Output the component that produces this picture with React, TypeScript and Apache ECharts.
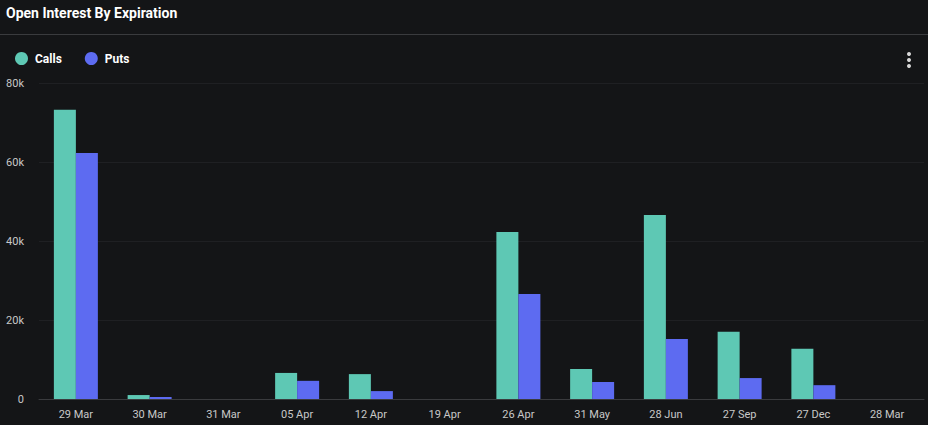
import React, { useEffect, useRef } from "react";
import * as echarts from "echarts";

const categories = ["29 Mar", "30 Mar", "31 Mar", "05 Apr", "12 Apr", "19 Apr", "26 Apr", "31 May", "28 Jun", "27 Sep", "27 Dec", "28 Mar"];
const callsValues = [73200, 1000, 0, 6600, 6300, 0, 42300, 7600, 46600, 17000, 12700, 0];
const putsValues = [62300, 500, 0, 4600, 2000, 0, 26600, 4300, 15200, 5300, 3500, 0];

const BG = "#141517";

export default function App() {
  const ref = useRef<HTMLDivElement>(null);
  useEffect(() => {
    document.body.style.margin = "0";
    document.body.style.background = BG;
    const chart = echarts.init(ref.current!, null, { renderer: "svg" });
    chart.setOption({
      animation: false,
      backgroundColor: BG,
      textStyle: { fontFamily: "Roboto, Inter, sans-serif" },
      title: {
        text: "Open Interest By Expiration",
        left: 6,
        top: 6,
        padding: 0,
        textStyle: { color: "#ffffff", fontSize: 14, fontWeight: "bold", fontFamily: "Roboto, sans-serif" },
      },
      legend: {
        left: 10,
        top: 47,
        icon: "circle",
        itemWidth: 13,
        itemHeight: 13,
        itemGap: 23,
        textStyle: { color: "#ffffff", fontSize: 12, fontWeight: "bold", fontFamily: "Roboto, sans-serif", padding: [0, 0, 0, 2] },
        data: ["Calls", "Puts"],
      },
      graphic: [
        { type: "line", shape: { x1: 0, y1: 34.5, x2: 928, y2: 34.5 }, style: { stroke: "#3a3b3e", lineWidth: 1 } },
        { type: "circle", shape: { cx: 909, cy: 54, r: 2 }, style: { fill: "#d8d8d8" } },
        { type: "circle", shape: { cx: 909, cy: 60, r: 2 }, style: { fill: "#d8d8d8" } },
        { type: "circle", shape: { cx: 909, cy: 66, r: 2 }, style: { fill: "#d8d8d8" } },
      ],
      grid: { left: 39, right: 4, top: 83, bottom: 26 },
      xAxis: {
        type: "category",
        data: categories,
        axisLine: { lineStyle: { color: "#3a3b3e" } },
        axisTick: { show: false },
        axisLabel: { color: "#c8c8c8", fontSize: 11, margin: 10 },
      },
      yAxis: {
        type: "value",
        min: 0,
        max: 80000,
        interval: 20000,
        splitLine: { lineStyle: { color: "#1f2023" } },
        axisLabel: {
          color: "#c8c8c8",
          fontSize: 11,
          margin: 15,
          formatter: (v: number) => (v === 0 ? "0" : v / 1000 + "k"),
        },
      },
      series: [
        { name: "Calls", type: "bar", data: callsValues, barWidth: 22, barGap: "0%", itemStyle: { color: "#5ec8b4" } },
        { name: "Puts", type: "bar", data: putsValues, barWidth: 22, barGap: "0%", itemStyle: { color: "#5d6bf1" } },
      ],
    });
    return () => chart.dispose();
  }, []);
  return <div ref={ref} style={{ width: 928, height: 425 }} />;
}
